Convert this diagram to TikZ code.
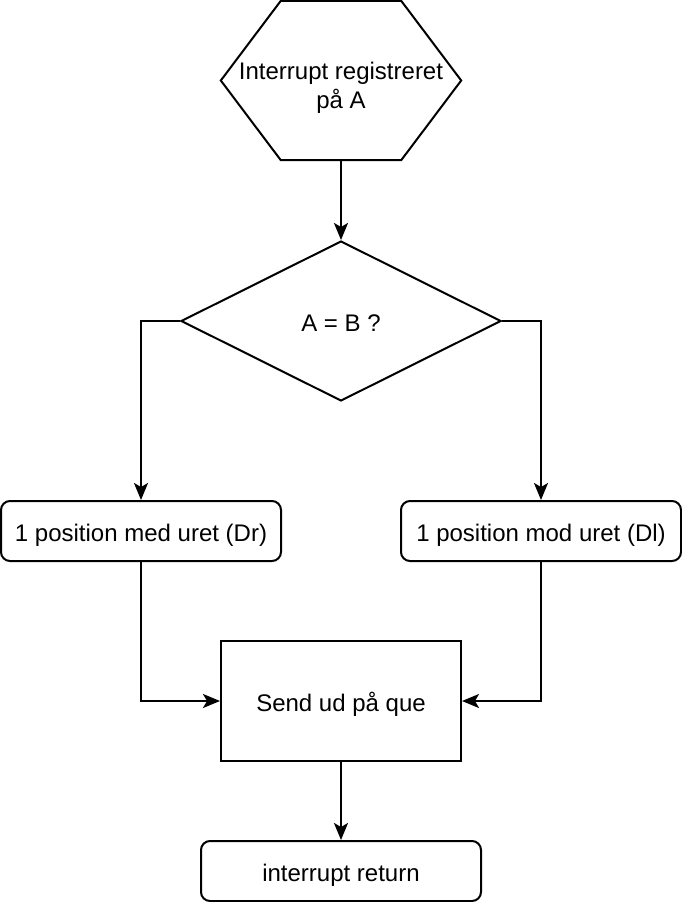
\documentclass[tikz,border=0pt]{standalone}
\usepackage{fontspec}
\setmainfont{Liberation Sans}
\usetikzlibrary{shapes.geometric,arrows.meta}
\tikzset{
  cadre/.style={draw,line width=2pt,minimum width=280pt,minimum height=60pt,inner sep=0pt,text height=21pt,text depth=0pt},
  arrondi/.style={cadre,rounded corners=9pt},
  fleche/.style={line width=2pt,-{Stealth[length=17pt,width=14pt,inset=4pt]}}
}
\begin{document}
\begin{tikzpicture}[x=1pt,y=-1pt,font=\fontsize{24}{29}\selectfont]
\useasboundingbox (0,0) rectangle (682,902);
% hexagone du debut
\node (hex) [minimum width=240pt,minimum height=159pt,inner sep=0pt] at (341,80.5) {};
\draw [line width=2pt] (hex.west) -- ([xshift=60pt]hex.north west) -- ([xshift=-60pt]hex.north east)
  -- (hex.east) -- ([xshift=-60pt]hex.south east) -- ([xshift=60pt]hex.south west) -- cycle;
\node (hextxt) [align=center] at ([yshift=-7pt]hex.center) {Interrupt registreret\\på A};
% test
\node (test) [draw,diamond,line width=2pt,minimum width=320pt,minimum height=160pt,inner sep=0pt,
  text height=21pt,text depth=0pt] at (341,321) {A = B ?};
% les deux cas
\node (gauche) [arrondi] at (141,531) {1 position med uret (Dr)};
\node (droite) [arrondi] at (541,531) {1 position mod uret (Dl)};
\node (envoi) [cadre,minimum width=240pt,minimum height=120pt] at (341,701) {Send ud på que};
\node (retour) [arrondi] at (341,871) {interrupt return};
% fleches
\draw [fleche] (hex.south) -- (test.north);
\draw [fleche] (test.west) -| (gauche.north);
\draw [fleche] (test.east) -| (droite.north);
\draw [fleche] (gauche.south) |- (envoi.west);
\draw [fleche] (droite.south) |- (envoi.east);
\draw [fleche] (envoi.south) -- (retour.north);
\end{tikzpicture}
\end{document}
